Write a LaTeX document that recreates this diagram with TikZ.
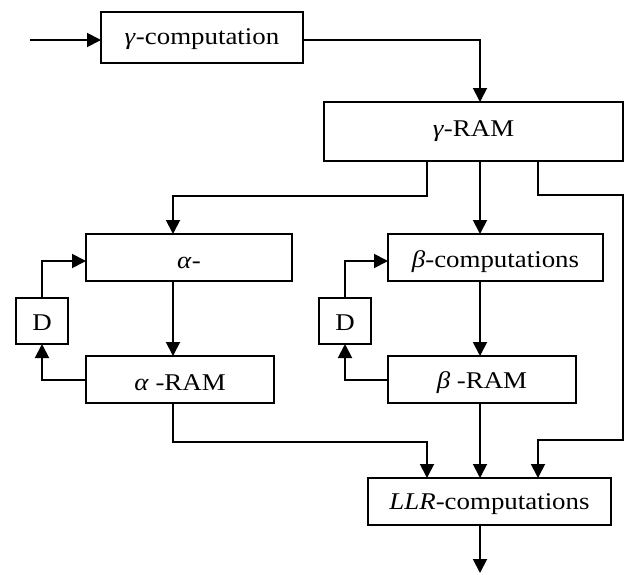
\documentclass[tikz,border=0pt]{standalone}
\usepackage{fontspec}
\setmainfont{Liberation Serif}[FakeStretch=1.12]
\usetikzlibrary{arrows.meta}
% set a label slightly below the box centre without changing its size
\newcommand{\dropby}[2]{\raisebox{-#1}[\height][\depth]{#2}}
\begin{document}
\begin{tikzpicture}[x=1pt,y=-1pt,
  box/.style={draw, line width=1.6pt, inner sep=0pt, outer sep=0pt,
    font=\fontsize{24}{28}\selectfont},
  arr/.style={line width=1.9pt, -{Triangle[length=14pt,width=14pt]}}]
\useasboundingbox (0,0) rectangle (630,574);

% blocks
\node[box, minimum width=202pt, minimum height=51pt] (gc) at (202,37.5) {\dropby{2pt}{\textit{γ}-computation}};
\node[box, minimum width=299pt, minimum height=59pt] (gram) at (473.5,131.5) {\textit{γ}-RAM};
\node[box, minimum width=206pt, minimum height=47pt] (acomp) at (189,257.5) {\dropby{5pt}{\textit{α}-}};
\node[box, minimum width=215pt, minimum height=47pt] (bcomp) at (495.5,257.5) {\dropby{4pt}{\textit{β}-computations}};
\node[box, minimum width=188pt, minimum height=47pt] (aram) at (180,379.5) {\dropby{3pt}{\textit{α} -RAM}};
\node[box, minimum width=188pt, minimum height=47pt] (bram) at (482,379.5) {\dropby{3pt}{\textit{β} -RAM}};
\node[box, minimum width=52pt, minimum height=46pt] (da) at (42,321) {\dropby{2pt}{D}};
\node[box, minimum width=52pt, minimum height=46pt] (db) at (345,321) {\dropby{2pt}{D}};
\node[box, minimum width=243pt, minimum height=47pt] (llr) at (489.5,501.5) {\dropby{3pt}{\textit{LLR}-computations}};

% routing points
\coordinate (in) at (30,40);
\coordinate (g1) at (480,40);
\coordinate (b1) at (427,196);
\coordinate (b2) at (173,196);
\coordinate (r1) at (538,195);
\coordinate (r2) at (623,195);
\coordinate (r3) at (623,440);
\coordinate (r4) at (538,440);
\coordinate (a1) at (173,442);
\coordinate (a2) at (427,442);
\coordinate (mid) at (480,0);
\coordinate (out) at (480,573);
\coordinate (fa) at (42,261);
\coordinate (fb) at (345,261);
\coordinate (ra) at (42,380);
\coordinate (rb) at (345,380);

% input and gamma path
\draw[arr] (in) -- (in -| gc.west);
\draw[arr] (g1 -| gc.east) -- (g1) -- (g1 |- gram.north);

% gamma RAM outputs
\draw[arr] (b1 |- gram.south) -- (b1) -- (b2) -- (b2 |- acomp.north);
\draw[arr] (mid |- gram.south) -- (mid |- bcomp.north);
\draw[arr] (r1 |- gram.south) -- (r1) -- (r2) -- (r3) -- (r4) -- (r4 |- llr.north);

% alpha branch
\draw[arr] (b2 |- acomp.south) -- (b2 |- aram.north);
\draw[arr] (ra -| aram.west) -- (ra) -- (da.south);
\draw[arr] (da.north) -- (fa) -- (fa -| acomp.west);
\draw[arr] (a1 |- aram.south) -- (a1) -- (a2) -- (a2 |- llr.north);

% beta branch
\draw[arr] (mid |- bcomp.south) -- (mid |- bram.north);
\draw[arr] (rb -| bram.west) -- (rb) -- (db.south);
\draw[arr] (db.north) -- (fb) -- (fb -| bcomp.west);
\draw[arr] (mid |- bram.south) -- (mid |- llr.north);

% output
\draw[arr] (mid |- llr.south) -- (out);
\end{tikzpicture}
\end{document}
